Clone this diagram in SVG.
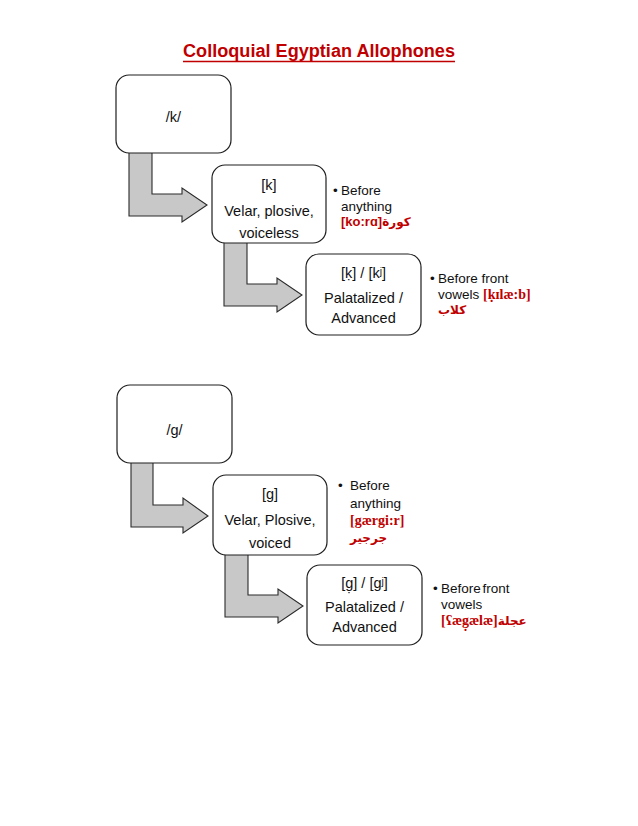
<svg xmlns="http://www.w3.org/2000/svg" width="638" height="826" viewBox="0 0 638 826">
<style>
.bg{fill:#ffffff}
.box{fill:#ffffff;stroke:#1e1e1e;stroke-width:1.2}
.arr{fill:#c8c8c8;stroke:#2a2a2a;stroke-width:1.1;stroke-linejoin:miter}
.bt{font-family:"Liberation Sans",Arial,sans-serif;font-size:14.5px;fill:#111111;text-anchor:middle}
.nt{font-family:"Liberation Sans",Arial,sans-serif;font-size:13.5px;fill:#111111}
.rs{font-family:"Liberation Sans",Arial,sans-serif;font-weight:bold;font-size:13px;fill:#c00000}
.rr{font-family:"Liberation Serif","Times New Roman",serif;font-weight:bold;font-size:14px;fill:#c00000}
.ar{font-family:"DejaVu Sans",sans-serif;font-weight:bold;font-size:12px;fill:#c00000}
.title{font-family:"Liberation Sans",Arial,sans-serif;font-weight:bold;font-size:18px;fill:#c00000}
</style>
<rect class="bg" x="0" y="0" width="638" height="826"/>
<g id="title">
<text class="title" x="183" y="57" textLength="272" lengthAdjust="spacingAndGlyphs">Colloquial Egyptian Allophones</text>
<line x1="183" y1="61.5" x2="455" y2="61.5" stroke="#c00000" stroke-width="1.4"/>
</g>
<g id="connectors">
<polygon class="arr" points="129,151 152,151 152,194 182,194 182,188 207,205 182,222 182,216 129,216"/>
<polygon class="arr" points="224,241 247,241 247,284 277,284 277,278 302,295 277,312 277,306 224,306"/>
<polygon class="arr" points="131,461 153,461 153,505 183,505 183,498 208,516 183,533 183,527 131,527"/>
<polygon class="arr" points="225,553 248,553 248,595 278,595 278,589 303,606 278,623 278,617 225,617"/>
</g>
<g id="node-k">
<rect class="box" x="116" y="75" width="115" height="78" rx="13"/>
<text class="bt" x="173.5" y="122">/k/</text>
</g>
<g id="node-k-velar">
<rect class="box" x="212" y="165" width="114" height="78" rx="13"/>
<text class="bt" x="269" y="190">[k]</text>
<text class="bt" x="269" y="216">Velar, plosive,</text>
<text class="bt" x="269" y="238">voiceless</text>
</g>
<g id="note-k-velar">
<text class="nt" x="333" y="195">•</text>
<text class="nt" x="341" y="195">Before</text>
<text class="nt" x="341" y="211">anything</text>
<text x="341" y="226"><tspan class="rs">[ko:rɑ]</tspan><tspan class="ar">كورة</tspan></text>
</g>
<g id="node-k-pal">
<rect class="box" x="306" y="254" width="115" height="81" rx="13"/>
<text class="bt" x="363.5" y="278">[ḳ] / [kʲ]</text>
<text class="bt" x="363.5" y="303">Palatalized /</text>
<text class="bt" x="363.5" y="323">Advanced</text>
</g>
<g id="note-k-pal">
<text class="nt" x="430" y="283">•</text>
<text class="nt" x="438" y="283">Before front</text>
<text x="438" y="299"><tspan class="nt">vowels </tspan><tspan class="rr">[ḳɪlæ:b]</tspan></text>
<text class="ar" x="438" y="314">كلاب</text>
</g>
<g id="node-g">
<rect class="box" x="117" y="385" width="115" height="78" rx="13"/>
<text class="bt" x="174.5" y="435">/g/</text>
</g>
<g id="node-g-velar">
<rect class="box" x="213" y="475" width="114" height="80" rx="13"/>
<text class="bt" x="270" y="499">[g]</text>
<text class="bt" x="270" y="525">Velar, Plosive,</text>
<text class="bt" x="270" y="548">voiced</text>
</g>
<g id="note-g-velar">
<text class="nt" x="338" y="490">•</text>
<text class="nt" x="350" y="490">Before</text>
<text class="nt" x="350" y="508">anything</text>
<text class="rr" x="350" y="525">[gærgi:r]</text>
<text class="ar" x="350" y="542">جرجير</text>
</g>
<g id="node-g-pal">
<rect class="box" x="307" y="565" width="115" height="80" rx="13"/>
<text class="bt" x="364.5" y="588">[g̣] / [gʲ]</text>
<text class="bt" x="364.5" y="612">Palatalized /</text>
<text class="bt" x="364.5" y="632">Advanced</text>
</g>
<g id="note-g-pal">
<text class="nt" x="433" y="593">•</text>
<text class="nt" x="441" y="593" word-spacing="-2">Before front</text>
<text class="nt" x="441" y="609">vowels</text>
<text x="441" y="625"><tspan class="rr">[ʕæg̣ælæ]</tspan><tspan class="ar">عجلة</tspan></text>
</g>
</svg>
